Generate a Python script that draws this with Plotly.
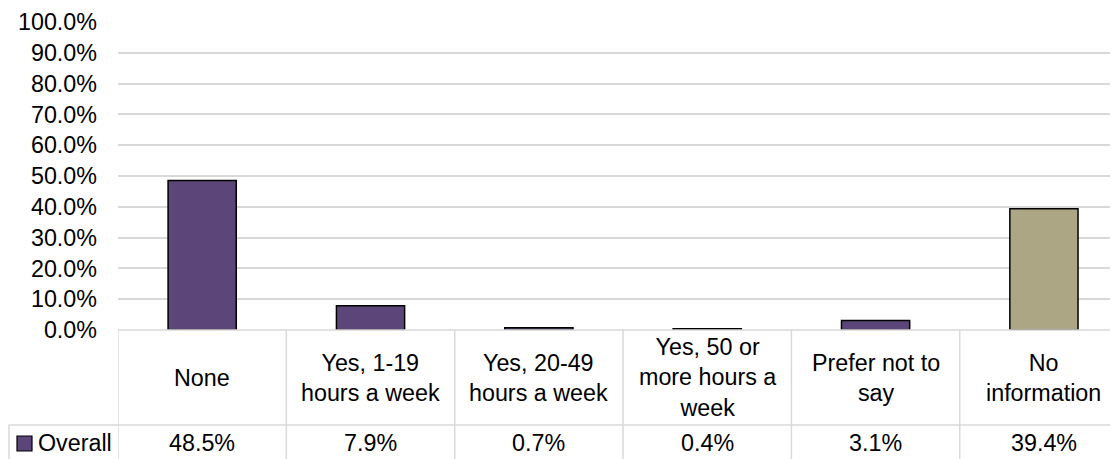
import plotly.graph_objects as go

categories = ["None", "Yes, 1-19<br>hours a week", "Yes, 20-49<br>hours a week",
              "Yes, 50 or<br>more hours a<br>week", "Prefer not to<br>say", "No<br>information"]
values = [0.485, 0.079, 0.007, 0.004, 0.031, 0.394]
value_labels = ["48.5%", "7.9%", "0.7%", "0.4%", "3.1%", "39.4%"]
series_name = "Overall"

PURPLE = "#5C4679"
TAN = "#ACA684"
bar_colors = [PURPLE, PURPLE, PURPLE, PURPLE, PURPLE, TAN]

FONT = "Liberation Sans, Arial, sans-serif"
FS = 23.3
GRID = "#D9D9D9"

OFF = 8  # default page body margin
W, H = 1110, 451
L, T, B = 110, 14, 129
plot_h = H - T - B


def py(px):
    # page pixel y -> paper y
    return (H - B - (px - OFF)) / plot_h


def pxp(px):
    # page pixel x -> paper x
    return (px - OFF - L) / (W - L)


xs = list(range(len(categories)))

fig = go.Figure()
fig.add_trace(go.Bar(
    x=xs, y=values, name=series_name, width=0.405,
    marker=dict(color=bar_colors, line=dict(color="black", width=1.5)),
    showlegend=False,
))

shapes = []
shapes.append(dict(type="line", xref="paper", yref="paper", x0=0, x1=1,
                   y0=py(330), y1=py(330), line=dict(color=GRID, width=1.5)))
shapes.append(dict(type="line", xref="paper", yref="paper", x0=pxp(8.5), x1=1,
                   y0=py(425), y1=py(425), line=dict(color=GRID, width=1.5)))
shapes.append(dict(type="line", xref="paper", yref="paper", x0=pxp(9), x1=pxp(9),
                   y0=py(425), y1=py(470), line=dict(color=GRID, width=1.5)))
for i in range(len(categories)):
    shapes.append(dict(type="line", xref="x", yref="paper", x0=i - 0.5, x1=i - 0.5,
                       y0=py(330), y1=py(470), line=dict(color=GRID, width=1.5)))
shapes.append(dict(type="rect", xref="paper", yref="paper",
                   x0=pxp(17), x1=pxp(32), y0=py(436), y1=py(451),
                   fillcolor=PURPLE, line=dict(color="black", width=1.2)))

annotations = []
for i, c in enumerate(categories):
    annotations.append(dict(x=i, y=py(377.5), xref="x", yref="paper", text=c,
                            showarrow=False, xanchor="center", yanchor="middle",
                            font=dict(family=FONT, size=FS, color="black")))
for i, v in enumerate(value_labels):
    annotations.append(dict(x=i, y=py(443), xref="x", yref="paper", text=v,
                            showarrow=False, xanchor="center", yanchor="middle",
                            font=dict(family=FONT, size=FS, color="black")))
annotations.append(dict(x=pxp(36), y=py(443), xref="paper", yref="paper", text=series_name,
                        showarrow=False, xanchor="left", yanchor="middle",
                        font=dict(family=FONT, size=FS, color="black")))

fig.update_layout(
    width=W, height=H,
    margin=dict(l=L, r=0, t=T, b=B, pad=0),
    paper_bgcolor="white", plot_bgcolor="white",
    font=dict(family=FONT, size=FS, color="black"),
    xaxis=dict(range=[-0.5, 5.44], showticklabels=False, showgrid=False,
               zeroline=False, showline=False, ticks="", fixedrange=True),
    yaxis=dict(range=[0, 1], tickvals=[i / 10 for i in range(11)], tickformat=".1%",
               showgrid=True, gridcolor=GRID, gridwidth=1.5, zeroline=False,
               showline=False, ticks="", ticklabelstandoff=20,
               tickfont=dict(family=FONT, size=FS, color="black")),
    shapes=shapes, annotations=annotations,
    bargap=0.6,
)

fig.write_html("out.html")
